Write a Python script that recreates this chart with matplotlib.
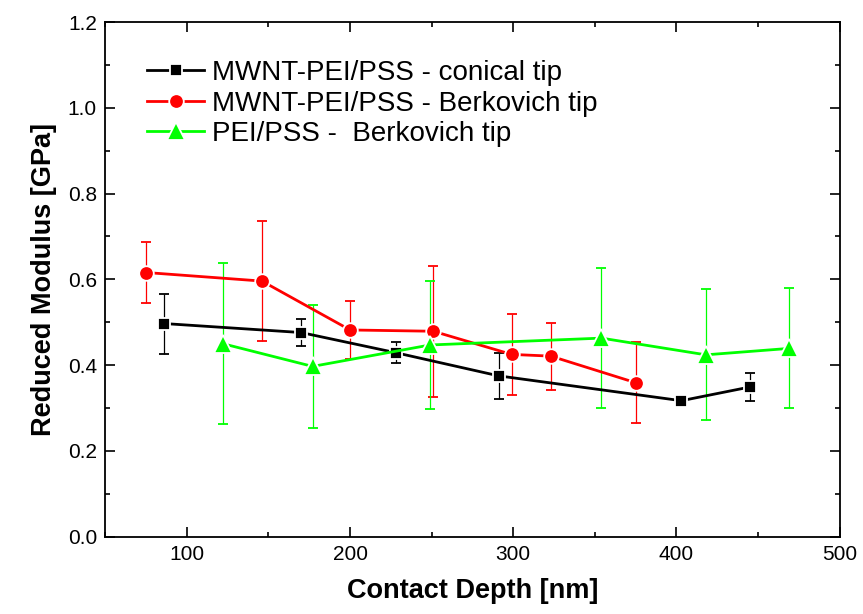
import matplotlib
matplotlib.use('Agg')
from matplotlib import pyplot as plt
from matplotlib.ticker import MultipleLocator

plt.rcParams['font.family'] = ['Liberation Sans', 'DejaVu Sans']

# MWNT-PEI/PSS - conical tip
conical_x = [86, 170, 228, 291, 403, 445]
conical_y = [0.497, 0.476, 0.429, 0.375, 0.317, 0.349]
conical_err = [0.070, 0.031, 0.024, 0.054, 0.006, 0.033]

# MWNT-PEI/PSS - Berkovich tip
berk_x = [75, 146, 200, 251, 299, 323, 375]
berk_y = [0.616, 0.596, 0.482, 0.479, 0.425, 0.421, 0.359]
berk_err = [0.070, 0.140, 0.068, 0.153, 0.095, 0.078, 0.095]

# PEI/PSS - Berkovich tip
pei_x = [122, 177, 249, 354, 418, 469]
pei_y = [0.450, 0.397, 0.447, 0.463, 0.424, 0.439]
pei_err = [0.188, 0.144, 0.149, 0.163, 0.153, 0.140]

series = [
    (conical_x, conical_y, conical_err, 'black', 's', 9.0, 'MWNT-PEI/PSS - conical tip'),
    (berk_x, berk_y, berk_err, 'red', 'o', 10.5, 'MWNT-PEI/PSS - Berkovich tip'),
    (pei_x, pei_y, pei_err, '#00ff00', '^', 12.5, 'PEI/PSS -  Berkovich tip'),
]

fig = plt.figure(figsize=(8.63, 6.14), dpi=100)
ax = fig.add_axes([0.122, 0.126, 0.851, 0.838])

handles = []
for x, y, err, color, marker, ms, label in series:
    c = ax.errorbar(x, y, yerr=err, color=color, ecolor=color, elinewidth=0.9,
                    capsize=3.8, capthick=0.9, linewidth=2.0, marker=marker,
                    markersize=ms, markeredgecolor='white', markeredgewidth=1.3,
                    markerfacecolor=color, label=label)
    handles.append(c.lines[0])

ax.set_xlim(50, 500)
ax.set_ylim(0.0, 1.2)
ax.xaxis.set_major_locator(MultipleLocator(100))
ax.xaxis.set_minor_locator(MultipleLocator(50))
ax.yaxis.set_major_locator(MultipleLocator(0.2))
ax.yaxis.set_minor_locator(MultipleLocator(0.1))
ax.yaxis.set_major_formatter(plt.FuncFormatter(lambda v, p: f'{v:.1f}'))

ax.tick_params(which='both', direction='in', top=True, right=True,
               labelsize=15, width=1.2)
ax.tick_params(which='major', length=7, pad=6)
ax.tick_params(which='minor', length=3.5)
for s in ax.spines.values():
    s.set_linewidth(1.3)

ax.set_xlabel('Contact Depth [nm]', fontsize=19.5, fontweight='bold', labelpad=10)
ax.set_ylabel('Reduced Modulus [GPa]', fontsize=19.5, fontweight='bold', labelpad=8)

leg = ax.legend(handles, [s[6] for s in series], loc='upper left',
                bbox_to_anchor=(0.057, 0.926), frameon=False,
                fontsize=20, handlelength=2.05, handletextpad=0.28,
                labelspacing=0.16, borderaxespad=0.0, borderpad=0.0)

fig.savefig('out.png', dpi=100)
